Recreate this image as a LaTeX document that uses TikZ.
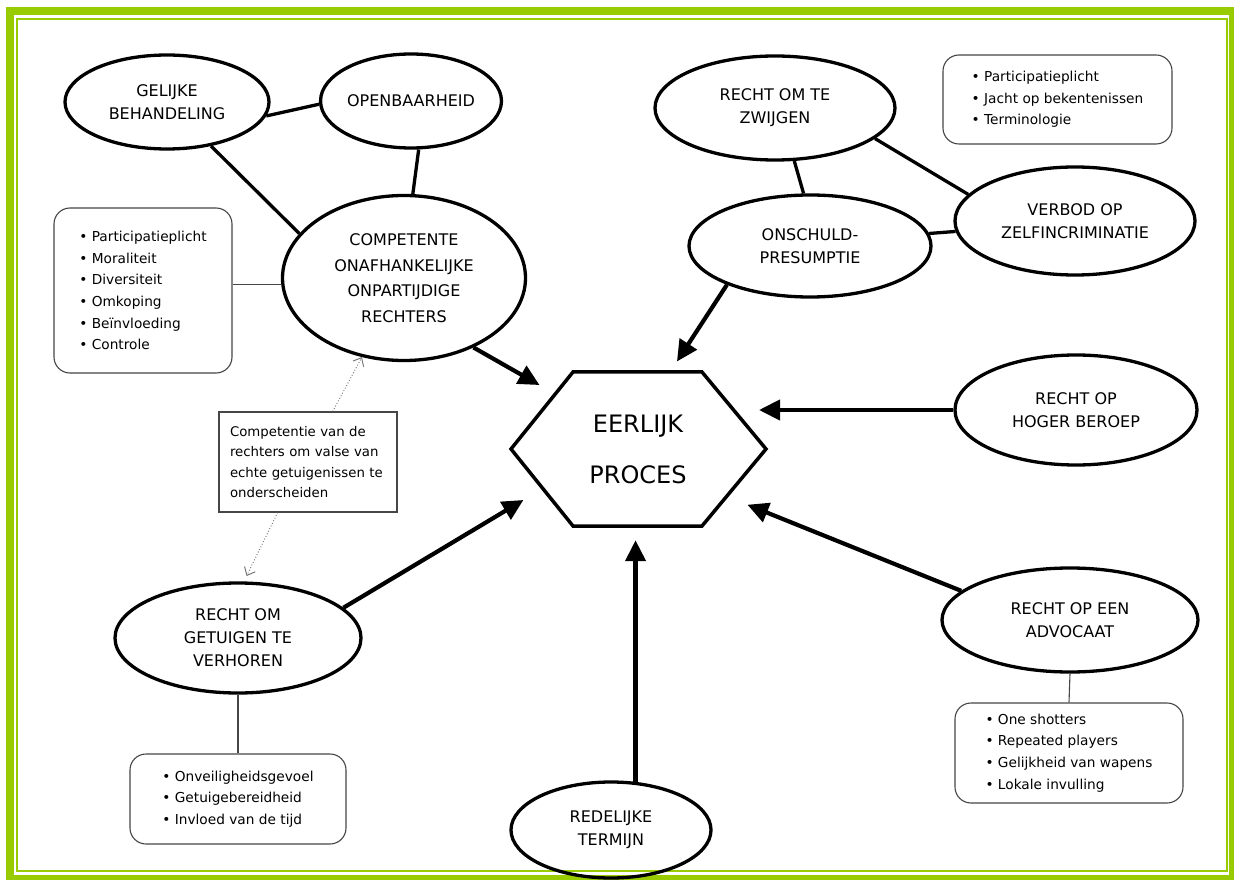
\documentclass[tikz,border=0pt]{standalone}
\usepackage{fontspec}
\setmainfont{DejaVu Sans}
\usetikzlibrary{arrows.meta,shapes.geometric}
\definecolor{framegreen}{RGB}{153,204,0}
\definecolor{boxgray}{RGB}{70,70,70}
\definecolor{hintgray}{RGB}{110,110,110}
\tikzset{
  topic/.style={ellipse, draw=black, line width=3.3pt, inner sep=0pt, align=center,
    font=\fontsize{16}{23}\selectfont},
  dims/.style 2 args={minimum width=#1pt, minimum height=#2pt},
  hexcore/.style={ellipse, inner sep=0pt, minimum width=276pt, minimum height=182pt,
    align=center, font=\fontsize{24}{51}\selectfont},
  listbox/.style={draw=boxgray, line width=1.1pt, rounded corners=16pt, align=left,
    inner sep=0pt, font=\fontsize{13.7}{21.7}\selectfont},
  notebox/.style={draw=boxgray, line width=1.1pt, align=left, inner xsep=11pt,
    inner ysep=0pt, text width=156pt, font=\fontsize{13.3}{20.2}\selectfont},
  link/.style={line width=3.3pt},
  thinlink/.style={draw=boxgray, line width=1.1pt},
  arr/.style={line width=4.2pt, -{Triangle[length=21pt,width=20pt]}},
  hint/.style={draw=hintgray, line width=0.9pt, dotted,
    -{Straight Barb[length=7pt,width=12pt]}},
}
\begin{document}
\begin{tikzpicture}[x=1pt,y=-1pt]
% page and double green frame
\fill[white] (0,0) rectangle (1234,882);
\fill[framegreen] (6,7) rectangle (1234,880);
\fill[white] (14,15) rectangle (1229,875);
\draw[framegreen, line width=2pt] (17,19) rectangle (1227,871);

% central hexagon
\node[hexcore] (hex) at (638,449) {EERLIJK\\PROCES};
\draw[line width=3.5pt, line join=miter, shift={(hex.center)}]
  (-127,0) -- (-65,-77) -- (64,-77) -- (128,0) -- (64,77) -- (-65,77) -- cycle;

% topics
\node[topic, dims={204}{94}]  (gelijke)   at (167,102) {GELIJKE\\BEHANDELING};
\node[topic, dims={160}{94}]  (openb)     at (411,101) {OPENBAARHEID};
\node[topic, dims={243}{165}, font=\fontsize{16}{25.5}\selectfont] (comp) at (404,278)
  {COMPETENTE\\ONAFHANKELIJKE\\ONPARTIJDIGE\\RECHTERS};
\node[topic, dims={240}{104}] (zwijgen)   at (775,108) {RECHT OM TE\\ZWIJGEN};
\node[topic, dims={242}{102}] (onschuld)  at (810,246) {ONSCHULD-\\PRESUMPTIE};
\node[topic, dims={240}{108}] (verbod)    at (1075,221) {VERBOD OP\\ZELFINCRIMINATIE};
\node[topic, dims={242}{110}] (hoger)     at (1076,410) {RECHT OP\\HOGER BEROEP};
\node[topic, dims={256}{104}] (advocaat)  at (1070,620) {RECHT OP EEN\\ADVOCAAT};
\node[topic, dims={200}{96}]  (redelijke) at (611,830) {REDELIJKE\\TERMIJN};
\node[topic, dims={246}{110}] (getuigen)  at (238,638) {RECHT OM\\GETUIGEN TE\\VERHOREN};

% note boxes
\node[listbox, dims={178}{165}] (lbox) at (143,290.5)
  {• Participatieplicht\\• Moraliteit\\• Diversiteit\\• Omkoping\\• Beïnvloeding\\• Controle};
\node[listbox, dims={229}{89}] (trbox) at (1057.5,99.5)
  {• Participatieplicht\\• Jacht op bekentenissen\\• Terminologie};
\node[listbox, dims={228}{100}] (brbox) at (1069,753)
  {• One shotters\\• Repeated players\\• Gelijkheid van wapens\\• Lokale invulling};
\node[listbox, dims={216}{90}] (blbox) at (238,799)
  {• Onveiligheidsgevoel\\• Getuigebereidheid\\• Invloed van de tijd};
\node[notebox, minimum height=100pt] (tbox) at (308,462)
  {Competentie van de\\rechters om valse van\\echte getuigenissen te\\onderscheiden};

% links between topics
\draw[link] (gelijke.-8) -- (openb.182);
\draw[link] (gelijke.-45) -- (comp.157.6);
\draw[link] (openb.-81.5) -- (comp.84.5);
\draw[link] (zwijgen.-70) -- (onschuld.97);
\draw[link] (zwijgen.-17) -- (verbod.166.3);
\draw[link] (onschuld.6) -- (verbod.185.5);

% links to note boxes
\draw[thinlink] (comp.183) -- (comp.183 -| lbox.east);
\draw[thinlink] (brbox.north) -- (advocaat.south);
\draw[thinlink] (blbox.north) -- (getuigen.south);

% arrows into the hexagon
\draw[arr] (comp.-45.4) -- (hex.147.6);
\draw[arr] (onschuld.-155.5) -- (hex.66.3);
\draw[arr] (hoger.west) -- (hoger.west -| hex.20);
\draw[arr] (advocaat.165) -- (hex.-27.5);
\draw[arr] (redelijke.63) -- (redelijke.63 |- hex.south);
\draw[arr] (getuigen.16) -- (hex.204.6);

% dotted pointers from the note
\draw[hint] (tbox.64) -- (comp.-118);
\draw[hint, shorten >=6pt] (tbox.-121) -- (getuigen.84);
\end{tikzpicture}
\end{document}
